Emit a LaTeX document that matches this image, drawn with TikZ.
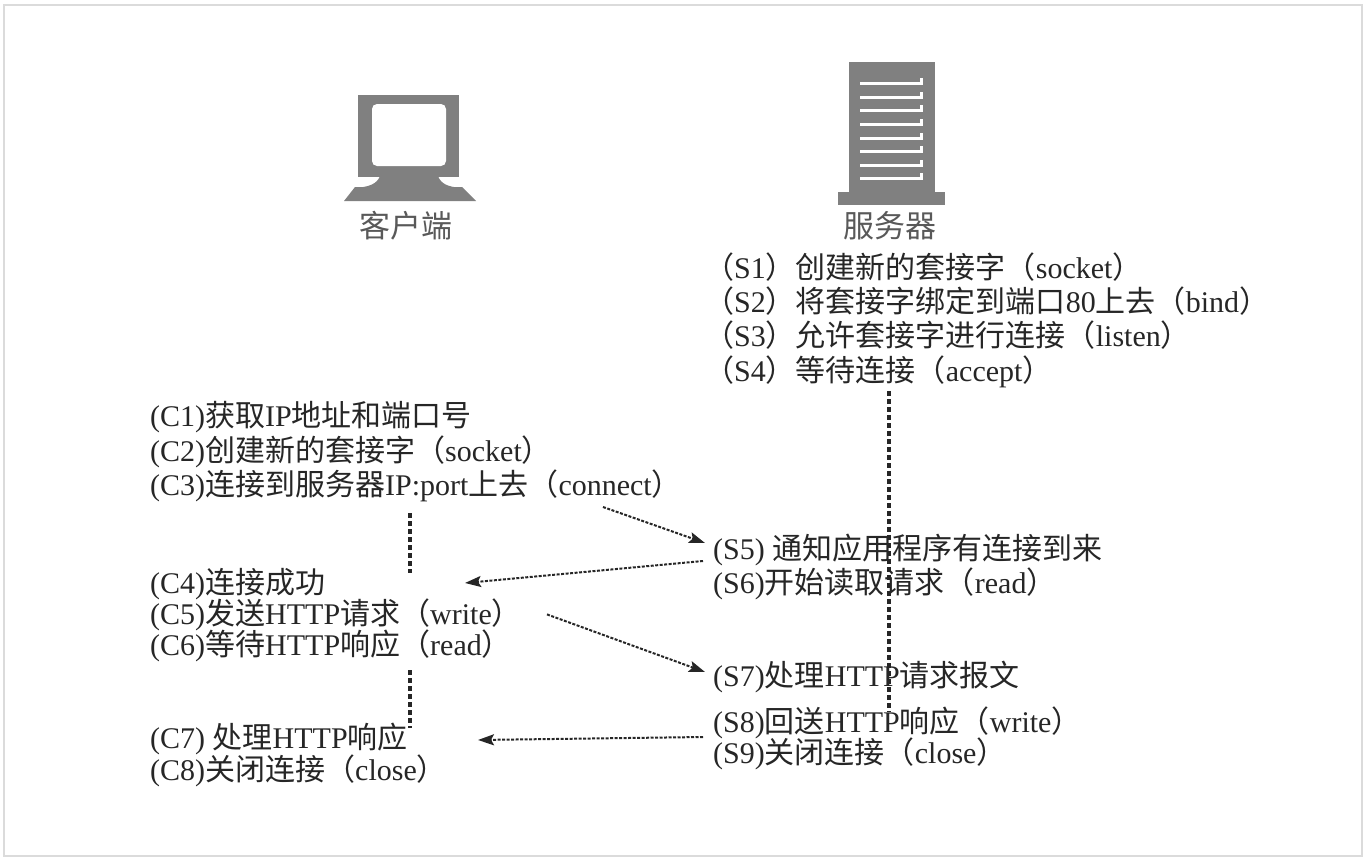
\documentclass[tikz,border=0pt]{standalone}
\usepackage{fontspec}
\setmainfont{Liberation Serif}
\newfontfamily\cjk{Noto Sans CJK SC}
\usetikzlibrary{arrows.meta,calc,positioning}
\newcommand{\zh}[1]{{\cjk #1}}
\tikzset{
    action/.style={
        anchor=west,
        inner sep=0pt,
        text height=26pt,
        text depth=6pt,
        font=\fontsize{30}{34}\selectfont,
        text=black!85},
    hostname/.style={
        inner sep=0pt,
        font=\cjk\fontsize{31}{36}\selectfont,
        text=black!65},
    icon/.style={fill=black!50},
    msg/.style={
        draw=black!85,
        line width=2pt,
        dash pattern=on 3pt off 1.5pt,
        -{Stealth[length=16pt,width=11pt,inset=3pt]}},
    lifeline/.style={
        draw=black!85,
        line width=3.5pt,
        dash pattern=on 5pt off 3pt},
}
\begin{document}
\begin{tikzpicture}[x=1pt,y=-1pt]
  \useasboundingbox (0,0) rectangle (1366,862);
  \draw[black!14, line width=2pt] (3.5,5) rectangle (1362,856);
  % Client
  \coordinate (client) at (410,0);
  \fill[icon] (358,95) rectangle (459,177);
  \fill[white,rounded corners=5pt] (372,104) rectangle (446,166);
  \fill[icon] (380,176) -- (438,176) .. controls (441,184) and (448,187) .. (462,188)
    -- (355,188) .. controls (369,187) and (377,184) .. (380,176) -- cycle;
  \fill[icon] (355,187) -- (462,187) -- (476,201) -- (344,201) -- cycle;
  \node[hostname] (clientname) at (406,226) {客户端};
  % Server
  \coordinate (server) at (889,0);
  \fill[icon] (849,62) rectangle (935,194);
  \fill[icon] (838,192) rectangle (945,205);
  \foreach \y in {83,97,110,124,138,151,165,178}
    \draw[white,line width=3pt] (860,\y) -- (921,\y) -- (921,\y-5);
  \node[hostname] (servername) at (890,226) {服务器};
  % Server steps
  \node[action] (s1) at (704,268) {\zh{（}S1\zh{）创建新的套接字（}socket\zh{）}};
  \node[action, below=2pt of s1.south west, anchor=north west] (s2) {\zh{（}S2\zh{）将套接字绑定到端口}80\zh{上去（}bind\zh{）}};
  \node[action, below=2pt of s2.south west, anchor=north west] (s3) {\zh{（}S3\zh{）允许套接字进行连接（}listen\zh{）}};
  \node[action, below=2pt of s3.south west, anchor=north west] (s4) {\zh{（}S4\zh{）等待连接（}accept\zh{）}};
  \node[action] (s5) at (713,549) {(S5) \zh{通知应用程序有连接到来}};
  \node[action, below=2pt of s5.south west, anchor=north west] (s6) {(S6)\zh{开始读取请求（}read\zh{）}};
  \node[action] (s7) at (713,676) {(S7)\zh{处理}HTTP\zh{请求报文}};
  \node[action] (s8) at (713,722) {(S8)\zh{回送}HTTP\zh{响应（}write\zh{）}};
  \node[action, below=-1pt of s8.south west, anchor=north west] (s9) {(S9)\zh{关闭连接（}close\zh{）}};
  % Client steps
  \node[action] (c1) at (150,416) {(C1)\zh{获取}IP\zh{地址和端口号}};
  \node[action, below=3pt of c1.south west, anchor=north west] (c2) {(C2)\zh{创建新的套接字（}socket\zh{）}};
  \node[action, below=2pt of c2.south west, anchor=north west] (c3) {(C3)\zh{连接到服务器}IP:port\zh{上去（}connect\zh{）}};
  \node[action] (c4) at (150,583) {(C4)\zh{连接成功}};
  \node[action, below=-1pt of c4.south west, anchor=north west] (c5) {(C5)\zh{发送}HTTP\zh{请求（}write\zh{）}};
  \node[action, below=-1pt of c5.south west, anchor=north west] (c6) {(C6)\zh{等待}HTTP\zh{响应（}read\zh{）}};
  \node[action] (c7) at (150,738) {(C7) \zh{处理}HTTP\zh{响应}};
  \node[action, below=0pt of c7.south west, anchor=north west] (c8) {(C8)\zh{关闭连接（}close\zh{）}};
  % Lifelines
  \draw[lifeline] ($(s4.south -| server)+(0,4)$) -- ($(s8.north -| server)+(0,6)$);
  \draw[lifeline] ($(c3.south -| client)+(0,11)$) -- ($(c4.north -| client)+(0,6)$);
  \draw[lifeline] ($(c6.south -| client)+(0,8)$) -- ($(c7.north -| client)+(0,6)$);
  % Messages
  \draw[msg] ($(c3.south -| client)+(193,5)$) -- ($(s5.west)+(-8,-6)$);
  \draw[msg] ($(s5.west)+(-10,12)$) -- ($(c4.west -| client)+(55,0)$);
  \draw[msg] ($(c5.west -| client)+(137,0)$) -- ($(s7.west)+(-8,-4)$);
  \draw[msg] ($(s8.west)+(-10,15)$) -- ($(c7.west -| client)+(68,2)$);
\end{tikzpicture}
\end{document}
